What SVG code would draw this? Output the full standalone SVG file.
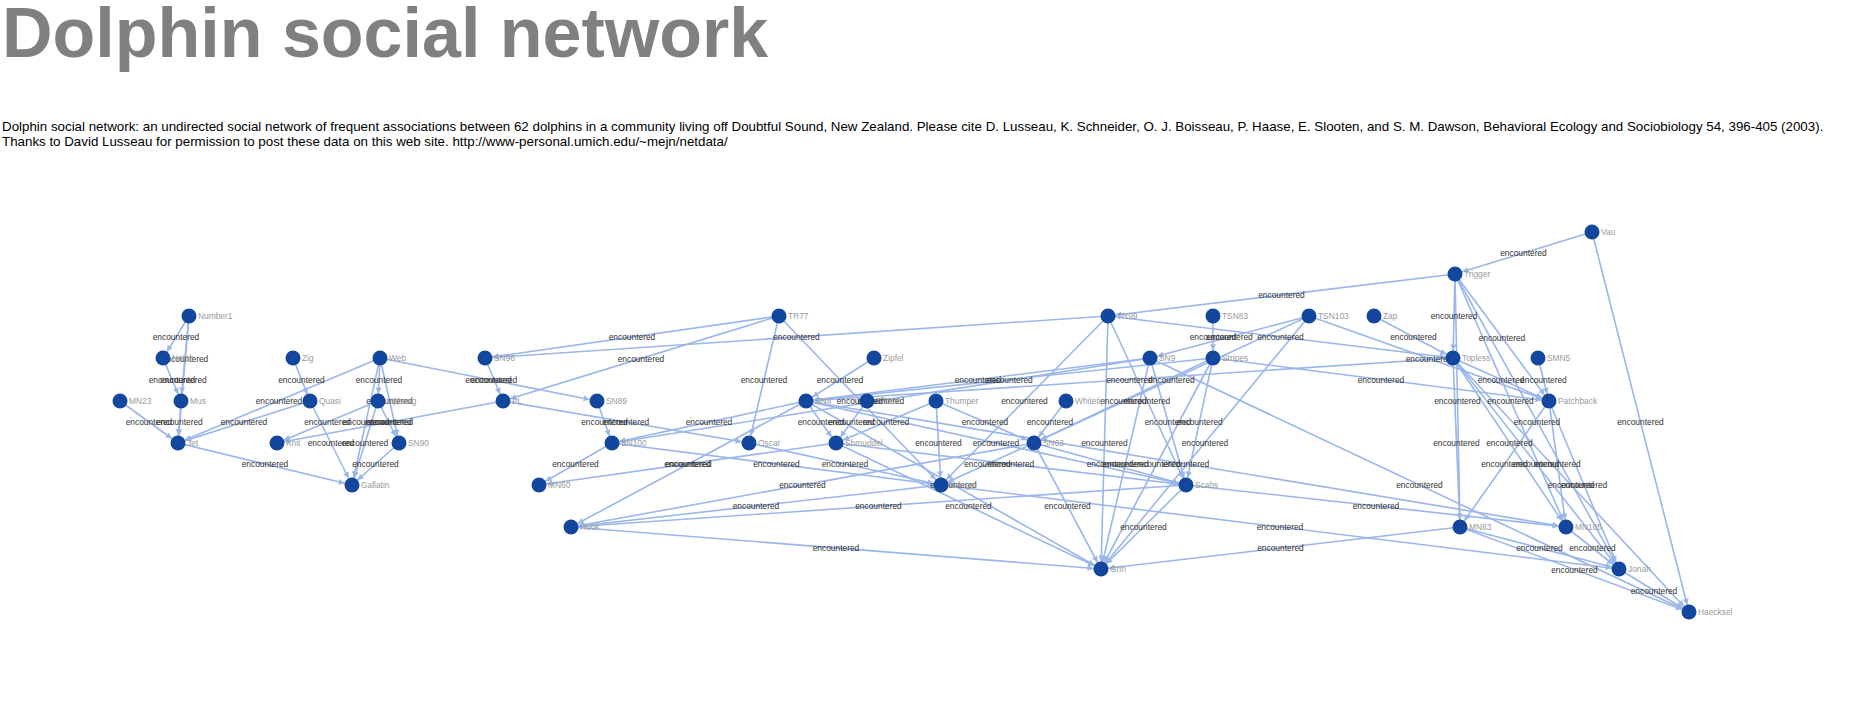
<svg xmlns="http://www.w3.org/2000/svg" width="1867" height="706" viewBox="0 0 1867 706">
<style>
.title{font-family:"Liberation Sans",Arial,sans-serif;font-weight:bold;font-size:70px;fill:#808080}
.desc{font-family:"Liberation Sans",Arial,sans-serif;font-size:13.33px;fill:#000}
.e{stroke:#9ab6ea;stroke-width:1.6;fill:none;marker-end:url(#arr)}
.el{font-family:"Liberation Sans",Arial,sans-serif;font-size:8.4px;fill:#333;text-anchor:middle;dominant-baseline:central}
.node circle{fill:#12479d}
.node text{font-family:"Liberation Sans",Arial,sans-serif;font-size:8.4px;fill:#9a9a9a;dominant-baseline:central}
</style>
<defs>
<marker id="arr" viewBox="0 0 10 10" refX="22.5" refY="5" markerWidth="6" markerHeight="6" markerUnits="userSpaceOnUse" orient="auto" overflow="visible"><path d="M0,0 L10,5 L0,10 z" fill="#9ab6ea"/></marker>
</defs>
<rect width="1867" height="706" fill="#fff"/>
<text class="title" x="2" y="57">Dolphin social network</text>
<text class="desc" x="2" y="131">Dolphin social network: an undirected social network of frequent associations between 62 dolphins in a community living off Doubtful Sound, New Zealand. Please cite D. Lusseau, K. Schneider, O. J. Boisseau, P. Haase, E. Slooten, and S. M. Dawson, Behavioral Ecology and Sociobiology 54, 396-405 (2003).</text>
<text class="desc" x="2" y="146">Thanks to David Lusseau for permission to post these data on this web site. http://www-personal.umich.edu/~mejn/netdata/</text>
<g id="connectors">
<line class="e" x1="189" y1="316" x2="163" y2="358"/>
<line class="e" x1="189" y1="316" x2="181" y2="401"/>
<line class="e" x1="189" y1="316" x2="178" y2="443"/>
<line class="e" x1="163" y1="358" x2="181" y2="401"/>
<line class="e" x1="181" y1="401" x2="178" y2="443"/>
<line class="e" x1="120" y1="401" x2="178" y2="443"/>
<line class="e" x1="293" y1="358" x2="310" y2="401"/>
<line class="e" x1="380" y1="358" x2="178" y2="443"/>
<line class="e" x1="310" y1="401" x2="178" y2="443"/>
<line class="e" x1="310" y1="401" x2="352" y2="485"/>
<line class="e" x1="380" y1="358" x2="378" y2="401"/>
<line class="e" x1="380" y1="358" x2="399" y2="443"/>
<line class="e" x1="380" y1="358" x2="352" y2="485"/>
<line class="e" x1="378" y1="401" x2="399" y2="443"/>
<line class="e" x1="378" y1="401" x2="277" y2="443"/>
<line class="e" x1="378" y1="401" x2="352" y2="485"/>
<line class="e" x1="503" y1="401" x2="277" y2="443"/>
<line class="e" x1="178" y1="443" x2="352" y2="485"/>
<line class="e" x1="399" y1="443" x2="352" y2="485"/>
<line class="e" x1="380" y1="358" x2="597" y2="401"/>
<line class="e" x1="485" y1="358" x2="503" y2="401"/>
<line class="e" x1="779" y1="316" x2="503" y2="401"/>
<line class="e" x1="779" y1="316" x2="485" y2="358"/>
<line class="e" x1="1108" y1="316" x2="485" y2="358"/>
<line class="e" x1="779" y1="316" x2="749" y2="443"/>
<line class="e" x1="779" y1="316" x2="941" y2="485"/>
<line class="e" x1="503" y1="401" x2="749" y2="443"/>
<line class="e" x1="597" y1="401" x2="612" y2="443"/>
<line class="e" x1="612" y1="443" x2="539" y2="485"/>
<line class="e" x1="806" y1="401" x2="612" y2="443"/>
<line class="e" x1="612" y1="443" x2="941" y2="485"/>
<line class="e" x1="836" y1="443" x2="539" y2="485"/>
<line class="e" x1="749" y1="443" x2="941" y2="485"/>
<line class="e" x1="1034" y1="443" x2="571" y2="527"/>
<line class="e" x1="941" y1="485" x2="571" y2="527"/>
<line class="e" x1="1186" y1="485" x2="571" y2="527"/>
<line class="e" x1="571" y1="527" x2="1101" y2="569"/>
<line class="e" x1="874" y1="358" x2="806" y2="401"/>
<line class="e" x1="1592" y1="232" x2="1455" y2="274"/>
<line class="e" x1="1455" y1="274" x2="1108" y2="316"/>
<line class="e" x1="1455" y1="274" x2="1453" y2="358"/>
<line class="e" x1="1455" y1="274" x2="1549" y2="401"/>
<line class="e" x1="1374" y1="316" x2="1453" y2="358"/>
<line class="e" x1="1108" y1="316" x2="1453" y2="358"/>
<line class="e" x1="1309" y1="316" x2="1549" y2="401"/>
<line class="e" x1="1538" y1="358" x2="1549" y2="401"/>
<line class="e" x1="1453" y1="358" x2="1549" y2="401"/>
<line class="e" x1="1213" y1="358" x2="1549" y2="401"/>
<line class="e" x1="1455" y1="274" x2="1460" y2="527"/>
<line class="e" x1="1455" y1="274" x2="1566" y2="527"/>
<line class="e" x1="1592" y1="232" x2="1689" y2="612"/>
<line class="e" x1="1455" y1="274" x2="1619" y2="569"/>
<line class="e" x1="1453" y1="358" x2="1460" y2="527"/>
<line class="e" x1="1453" y1="358" x2="1566" y2="527"/>
<line class="e" x1="1549" y1="401" x2="1460" y2="527"/>
<line class="e" x1="1453" y1="358" x2="1619" y2="569"/>
<line class="e" x1="1549" y1="401" x2="1566" y2="527"/>
<line class="e" x1="1453" y1="358" x2="1689" y2="612"/>
<line class="e" x1="1549" y1="401" x2="1619" y2="569"/>
<line class="e" x1="1150" y1="358" x2="1689" y2="612"/>
<line class="e" x1="1186" y1="485" x2="1566" y2="527"/>
<line class="e" x1="1460" y1="527" x2="1619" y2="569"/>
<line class="e" x1="1566" y1="527" x2="1619" y2="569"/>
<line class="e" x1="1460" y1="527" x2="1689" y2="612"/>
<line class="e" x1="1619" y1="569" x2="1689" y2="612"/>
<line class="e" x1="1213" y1="316" x2="1213" y2="358"/>
<line class="e" x1="1309" y1="316" x2="1150" y2="358"/>
<line class="e" x1="1460" y1="527" x2="1101" y2="569"/>
<line class="e" x1="941" y1="485" x2="1619" y2="569"/>
<line class="e" x1="1186" y1="485" x2="1101" y2="569"/>
<line class="e" x1="836" y1="443" x2="1101" y2="569"/>
<line class="e" x1="1034" y1="443" x2="1101" y2="569"/>
<line class="e" x1="1108" y1="316" x2="941" y2="485"/>
<line class="e" x1="1108" y1="316" x2="1101" y2="569"/>
<line class="e" x1="1108" y1="316" x2="1186" y2="485"/>
<line class="e" x1="1150" y1="358" x2="1186" y2="485"/>
<line class="e" x1="1150" y1="358" x2="1101" y2="569"/>
<line class="e" x1="1213" y1="358" x2="1186" y2="485"/>
<line class="e" x1="1213" y1="358" x2="1101" y2="569"/>
<line class="e" x1="1213" y1="358" x2="1034" y2="443"/>
<line class="e" x1="1066" y1="401" x2="1034" y2="443"/>
<line class="e" x1="936" y1="401" x2="941" y2="485"/>
<line class="e" x1="936" y1="401" x2="1034" y2="443"/>
<line class="e" x1="1034" y1="443" x2="1186" y2="485"/>
<line class="e" x1="1034" y1="443" x2="941" y2="485"/>
<line class="e" x1="806" y1="401" x2="836" y2="443"/>
<line class="e" x1="867" y1="401" x2="836" y2="443"/>
<line class="e" x1="936" y1="401" x2="836" y2="443"/>
<line class="e" x1="806" y1="401" x2="1186" y2="485"/>
<line class="e" x1="1309" y1="316" x2="1101" y2="569"/>
<line class="e" x1="836" y1="443" x2="1186" y2="485"/>
<line class="e" x1="806" y1="401" x2="1101" y2="569"/>
<line class="e" x1="1453" y1="358" x2="806" y2="401"/>
<line class="e" x1="1309" y1="316" x2="1034" y2="443"/>
<line class="e" x1="1150" y1="358" x2="806" y2="401"/>
<line class="e" x1="1213" y1="358" x2="806" y2="401"/>
<line class="e" x1="1150" y1="358" x2="612" y2="443"/>
<line class="e" x1="806" y1="401" x2="571" y2="527"/>
<line class="e" x1="806" y1="401" x2="1566" y2="527"/>
<text class="el" x="176" y="337">encountered</text>
<text class="el" x="185" y="358.5">encountered</text>
<text class="el" x="183.5" y="379.5">encountered</text>
<text class="el" x="172" y="379.5">encountered</text>
<text class="el" x="179.5" y="422">encountered</text>
<text class="el" x="149" y="422">encountered</text>
<text class="el" x="301.5" y="379.5">encountered</text>
<text class="el" x="279" y="400.5">encountered</text>
<text class="el" x="244" y="422">encountered</text>
<text class="el" x="331" y="443">encountered</text>
<text class="el" x="379" y="379.5">encountered</text>
<text class="el" x="389.5" y="400.5">encountered</text>
<text class="el" x="366" y="421.5">encountered</text>
<text class="el" x="388.5" y="422">encountered</text>
<text class="el" x="327.5" y="422">encountered</text>
<text class="el" x="365" y="443">encountered</text>
<text class="el" x="390" y="422">encountered</text>
<text class="el" x="265" y="464">encountered</text>
<text class="el" x="375.5" y="464">encountered</text>
<text class="el" x="488.5" y="379.5">encountered</text>
<text class="el" x="494" y="379.5">encountered</text>
<text class="el" x="641" y="358.5">encountered</text>
<text class="el" x="632" y="337">encountered</text>
<text class="el" x="796.5" y="337">encountered</text>
<text class="el" x="764" y="379.5">encountered</text>
<text class="el" x="860" y="400.5">encountered</text>
<text class="el" x="626" y="422">encountered</text>
<text class="el" x="604.5" y="422">encountered</text>
<text class="el" x="575.5" y="464">encountered</text>
<text class="el" x="709" y="422">encountered</text>
<text class="el" x="776.5" y="464">encountered</text>
<text class="el" x="687.5" y="464">encountered</text>
<text class="el" x="845" y="464">encountered</text>
<text class="el" x="802.5" y="485">encountered</text>
<text class="el" x="756" y="506">encountered</text>
<text class="el" x="878.5" y="506">encountered</text>
<text class="el" x="836" y="548">encountered</text>
<text class="el" x="840" y="379.5">encountered</text>
<text class="el" x="1523.5" y="253">encountered</text>
<text class="el" x="1281.5" y="295">encountered</text>
<text class="el" x="1454" y="316">encountered</text>
<text class="el" x="1502" y="337.5">encountered</text>
<text class="el" x="1413.5" y="337">encountered</text>
<text class="el" x="1280.5" y="337">encountered</text>
<text class="el" x="1429" y="358.5">encountered</text>
<text class="el" x="1543.5" y="379.5">encountered</text>
<text class="el" x="1501" y="379.5">encountered</text>
<text class="el" x="1381" y="379.5">encountered</text>
<text class="el" x="1457.5" y="400.5">encountered</text>
<text class="el" x="1510.5" y="400.5">encountered</text>
<text class="el" x="1640.5" y="422">encountered</text>
<text class="el" x="1537" y="421.5">encountered</text>
<text class="el" x="1456.5" y="442.5">encountered</text>
<text class="el" x="1509.5" y="442.5">encountered</text>
<text class="el" x="1504.5" y="464">encountered</text>
<text class="el" x="1536" y="463.5">encountered</text>
<text class="el" x="1557.5" y="464">encountered</text>
<text class="el" x="1571" y="485">encountered</text>
<text class="el" x="1584" y="485">encountered</text>
<text class="el" x="1419.5" y="485">encountered</text>
<text class="el" x="1376" y="506">encountered</text>
<text class="el" x="1539.5" y="548">encountered</text>
<text class="el" x="1592.5" y="548">encountered</text>
<text class="el" x="1574.5" y="569.5">encountered</text>
<text class="el" x="1654" y="590.5">encountered</text>
<text class="el" x="1213" y="337">encountered</text>
<text class="el" x="1229.5" y="337">encountered</text>
<text class="el" x="1280.5" y="548">encountered</text>
<text class="el" x="1280" y="527">encountered</text>
<text class="el" x="1143.5" y="527">encountered</text>
<text class="el" x="968.5" y="506">encountered</text>
<text class="el" x="1067.5" y="506">encountered</text>
<text class="el" x="1024.5" y="400.5">encountered</text>
<text class="el" x="1104.5" y="442.5">encountered</text>
<text class="el" x="1147" y="400.5">encountered</text>
<text class="el" x="1168" y="421.5">encountered</text>
<text class="el" x="1125.5" y="463.5">encountered</text>
<text class="el" x="1199.5" y="421.5">encountered</text>
<text class="el" x="1157" y="463.5">encountered</text>
<text class="el" x="1123.5" y="400.5">encountered</text>
<text class="el" x="1050" y="422">encountered</text>
<text class="el" x="938.5" y="443">encountered</text>
<text class="el" x="985" y="422">encountered</text>
<text class="el" x="1110" y="464">encountered</text>
<text class="el" x="987.5" y="464">encountered</text>
<text class="el" x="821" y="422">encountered</text>
<text class="el" x="851.5" y="422">encountered</text>
<text class="el" x="886" y="422">encountered</text>
<text class="el" x="996" y="443">encountered</text>
<text class="el" x="1205" y="442.5">encountered</text>
<text class="el" x="1011" y="464">encountered</text>
<text class="el" x="953.5" y="485">encountered</text>
<text class="el" x="1129.5" y="379.5">encountered</text>
<text class="el" x="1171.5" y="379.5">encountered</text>
<text class="el" x="978" y="379.5">encountered</text>
<text class="el" x="1009.5" y="379.5">encountered</text>
<text class="el" x="881" y="400.5">encountered</text>
<text class="el" x="688.5" y="464">encountered</text>
<text class="el" x="1186" y="464">encountered</text>
</g>
<g id="n-Number1" class="node"><circle cx="189" cy="316" r="7.5"/><text x="198" y="316">Number1</text></g>
<g id="n-Notch" class="node"><circle cx="163" cy="358" r="7.5"/><text x="172" y="358">Notch</text></g>
<g id="n-Mus" class="node"><circle cx="181" cy="401" r="7.5"/><text x="190" y="401">Mus</text></g>
<g id="n-MN23" class="node"><circle cx="120" cy="401" r="7.5"/><text x="129" y="401">MN23</text></g>
<g id="n-Jet" class="node"><circle cx="178" cy="443" r="7.5"/><text x="187" y="443">Jet</text></g>
<g id="n-Zig" class="node"><circle cx="293" cy="358" r="7.5"/><text x="302" y="358">Zig</text></g>
<g id="n-Web" class="node"><circle cx="380" cy="358" r="7.5"/><text x="389" y="358">Web</text></g>
<g id="n-Quasi" class="node"><circle cx="310" cy="401" r="7.5"/><text x="319" y="401">Quasi</text></g>
<g id="n-Upbang" class="node"><circle cx="378" cy="401" r="7.5"/><text x="387" y="401">Upbang</text></g>
<g id="n-Knit" class="node"><circle cx="277" cy="443" r="7.5"/><text x="286" y="443">Knit</text></g>
<g id="n-SN90" class="node"><circle cx="399" cy="443" r="7.5"/><text x="408" y="443">SN90</text></g>
<g id="n-Gallatin" class="node"><circle cx="352" cy="485" r="7.5"/><text x="361" y="485">Gallatin</text></g>
<g id="n-SN96" class="node"><circle cx="485" cy="358" r="7.5"/><text x="494" y="358">SN96</text></g>
<g id="n-PL" class="node"><circle cx="503" cy="401" r="7.5"/><text x="512" y="401">PL</text></g>
<g id="n-SN89" class="node"><circle cx="597" cy="401" r="7.5"/><text x="606" y="401">SN89</text></g>
<g id="n-SN100" class="node"><circle cx="612" cy="443" r="7.5"/><text x="621" y="443">SN100</text></g>
<g id="n-MN60" class="node"><circle cx="539" cy="485" r="7.5"/><text x="548" y="485">MN60</text></g>
<g id="n-Hook" class="node"><circle cx="571" cy="527" r="7.5"/><text x="580" y="527">Hook</text></g>
<g id="n-TR77" class="node"><circle cx="779" cy="316" r="7.5"/><text x="788" y="316">TR77</text></g>
<g id="n-Oscar" class="node"><circle cx="749" cy="443" r="7.5"/><text x="758" y="443">Oscar</text></g>
<g id="n-Zipfel" class="node"><circle cx="874" cy="358" r="7.5"/><text x="883" y="358">Zipfel</text></g>
<g id="n-SN4" class="node"><circle cx="806" cy="401" r="7.5"/><text x="815" y="401">SN4</text></g>
<g id="n-TR120" class="node"><circle cx="867" cy="401" r="7.5"/><text x="876" y="401">TR120</text></g>
<g id="n-Shmuddel" class="node"><circle cx="836" cy="443" r="7.5"/><text x="845" y="443">Shmuddel</text></g>
<g id="n-Thumper" class="node"><circle cx="936" cy="401" r="7.5"/><text x="945" y="401">Thumper</text></g>
<g id="n-Kringel" class="node"><circle cx="941" cy="485" r="7.5"/><text x="950" y="485">Kringel</text></g>
<g id="n-Whitetip" class="node"><circle cx="1066" cy="401" r="7.5"/><text x="1075" y="401">Whitetip</text></g>
<g id="n-SN63" class="node"><circle cx="1034" cy="443" r="7.5"/><text x="1043" y="443">SN63</text></g>
<g id="n-TR99" class="node"><circle cx="1108" cy="316" r="7.5"/><text x="1117" y="316">TR99</text></g>
<g id="n-TSN83" class="node"><circle cx="1213" cy="316" r="7.5"/><text x="1222" y="316">TSN83</text></g>
<g id="n-SN9" class="node"><circle cx="1150" cy="358" r="7.5"/><text x="1159" y="358">SN9</text></g>
<g id="n-Stripes" class="node"><circle cx="1213" cy="358" r="7.5"/><text x="1222" y="358">Stripes</text></g>
<g id="n-Scabs" class="node"><circle cx="1186" cy="485" r="7.5"/><text x="1195" y="485">Scabs</text></g>
<g id="n-Grin" class="node"><circle cx="1101" cy="569" r="7.5"/><text x="1110" y="569">Grin</text></g>
<g id="n-TSN103" class="node"><circle cx="1309" cy="316" r="7.5"/><text x="1318" y="316">TSN103</text></g>
<g id="n-Zap" class="node"><circle cx="1374" cy="316" r="7.5"/><text x="1383" y="316">Zap</text></g>
<g id="n-Trigger" class="node"><circle cx="1455" cy="274" r="7.5"/><text x="1464" y="274">Trigger</text></g>
<g id="n-Vau" class="node"><circle cx="1592" cy="232" r="7.5"/><text x="1601" y="232">Vau</text></g>
<g id="n-Topless" class="node"><circle cx="1453" cy="358" r="7.5"/><text x="1462" y="358">Topless</text></g>
<g id="n-SMN5" class="node"><circle cx="1538" cy="358" r="7.5"/><text x="1547" y="358">SMN5</text></g>
<g id="n-Patchback" class="node"><circle cx="1549" cy="401" r="7.5"/><text x="1558" y="401">Patchback</text></g>
<g id="n-MN83" class="node"><circle cx="1460" cy="527" r="7.5"/><text x="1469" y="527">MN83</text></g>
<g id="n-MN105" class="node"><circle cx="1566" cy="527" r="7.5"/><text x="1575" y="527">MN105</text></g>
<g id="n-Jonah" class="node"><circle cx="1619" cy="569" r="7.5"/><text x="1628" y="569">Jonah</text></g>
<g id="n-Haecksel" class="node"><circle cx="1689" cy="612" r="7.5"/><text x="1698" y="612">Haecksel</text></g>
</svg>
